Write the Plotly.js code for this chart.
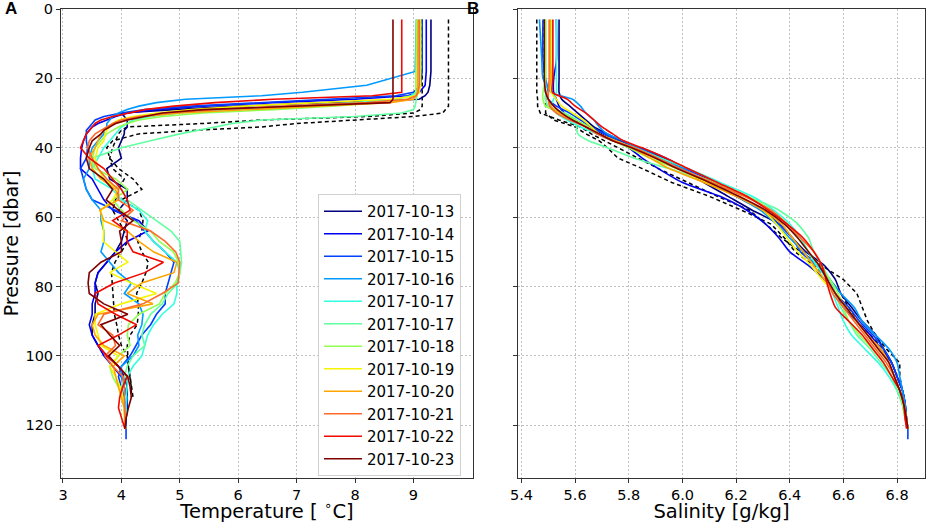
<!DOCTYPE html>
<html>
<head>
<meta charset="utf-8">
<script src="https://cdn.plot.ly/plotly-3.0.1.min.js"></script>
<style>html,body{margin:0;padding:0;background:#fff}</style>
</head>
<body>
<div id="chart" style="width:931px;height:523px"></div>
<script>
// profile dates, jet-like colours
const DATES = ['2017-10-13','2017-10-14','2017-10-15','2017-10-16','2017-10-17','2017-10-17',
               '2017-10-18','2017-10-19','2017-10-20','2017-10-21','2017-10-22','2017-10-23'];
const COLORS = ['#00007f','#0000f1','#0040ff','#0099ff','#30ffe0','#60ffa0',
                '#90ff50','#f5f500','#ffa500','#ff6a2a','#f10800','#7f0000'];

// ── Temperature panel ────────────────────────────────────────────────────────
const P_TEMP = [3,18,22,24,25,26,27,28,29,30,31,32,33,34,35,36,38,40,
                43,46,49,52,55,58,61,64,67,70,73,76,79,82,85,88,91,94,97,100,103,106,109,112,115,118,121,124];

const T_1013 = [9.3,9.3,9.28,9.25,9.2,9.1,7.5,6.0,4.9,4.0,4.05,4.1,4.1,4.1,4.05,4.05,4.0,3.95,
                4.0,3.75,3.8,4.1,4.1,3.95,4.1,4.05,4.0,3.9,3.75,3.6,3.55,3.6,3.55,3.55,3.5,3.5,3.6,3.75,3.95,4.05,4.1,4.1,4.1,4.08,4.08];
const T_1014 = [9.22,9.22,9.2,9.1,8.9,8.0,6.6,5.4,4.6,4.1,3.9,3.75,3.6,3.5,3.45,3.4,3.35,3.32,
                3.3,3.3,3.5,3.6,3.7,3.85,4.3,4.45,4.1,3.9,3.75,3.6,3.55,3.55,3.5,3.5,3.45,3.5,3.6,3.7,3.85,4.0,4.05,4.1,4.1,4.08,4.08];
const T_1015 = [9.15,9.15,9.12,9.0,8.7,7.6,6.4,5.2,4.4,4.0,3.7,3.55,3.5,3.45,3.4,3.4,3.4,3.42,
                3.4,3.3,3.35,3.4,3.5,3.9,4.25,4.4,4.55,4.75,4.9,4.85,4.8,4.75,4.75,4.6,4.5,4.35,4.25,4.15,4.0,3.95,4.0,4.05,4.08,4.08,4.08,4.08];
const T_1016 = [9.05,9.03,8.2,7.1,6.4,5.1,4.6,4.3,4.1,3.95,3.85,3.8,3.75,3.75,3.7,3.7,3.6,3.5,
                3.45,3.45,3.35,3.4,3.5,3.65,3.65,3.7,3.7,3.65,3.8,3.95,4.17,4.05,4.3,4.37,4.35,4.28,4.3,4.2,4.0,4.0,4.05,4.1,4.08,4.08];
const T_1017A = [9.12,9.12,9.1,9.05,8.95,8.7,8.0,7.0,6.0,5.0,4.5,4.2,4.1,4.0,3.95,3.9,3.8,3.7,
                 3.6,3.5,3.55,3.85,4.0,4.3,4.45,4.4,4.55,4.75,4.95,5.0,4.95,4.95,4.9,4.7,4.55,4.45,4.4,4.35,4.2,4.1,4.1,4.08,4.08,4.08];
const T_1017B = [9.08,9.08,9.08,9.07,9.06,9.05,9.05,9.03,9.0,8.8,8.0,6.4,5.9,5.6,5.3,5.0,4.5,4.0,
                 3.5,3.5,3.65,4.0,4.1,4.35,4.6,4.85,5.0,5.02,5.03,5.0,4.97,4.8,4.7,4.5,4.4,4.35,4.4,4.2,4.1,4.05,4.0,4.02,4.05,4.06,4.07];
const T_1018 = [9.05,9.05,9.05,9.04,9.0,8.9,8.4,7.6,6.6,5.4,4.7,4.3,4.1,3.95,3.85,3.75,3.65,3.55,
                3.5,3.55,3.9,4.11,3.85,4.0,4.2,4.5,4.65,4.89,4.98,5.0,4.92,4.75,4.65,4.3,4.12,4.1,4.15,3.95,3.8,3.85,3.95,4.0,4.05,4.05,4.07];
const T_1019 = [9.12,9.12,9.12,9.1,9.05,8.6,7.2,6.1,5.2,4.6,4.2,3.95,3.85,3.8,3.75,3.72,3.7,3.6,
                3.55,3.6,3.7,3.95,3.85,3.65,3.68,3.7,3.69,3.9,4.11,3.8,4.17,4.6,4.0,3.55,3.55,3.6,3.65,3.95,3.8,3.9,3.98,4.03,4.05,4.06,4.07];
const T_1020 = [9.08,9.08,9.08,9.07,9.05,9.0,8.6,7.4,6.1,5.0,4.4,4.1,3.9,3.75,3.7,3.65,3.6,3.55,
                3.45,3.5,3.65,3.9,3.95,3.63,3.7,4.1,4.3,4.55,4.95,4.9,4.35,4.1,4.54,3.6,3.5,3.55,3.7,4.05,3.86,3.9,3.95,4.0,4.05,4.06,4.07];
const T_1021 = [9.1,9.1,9.1,9.08,9.05,8.9,8.2,6.8,5.6,4.8,4.3,4.0,3.85,3.75,3.65,3.55,3.45,3.42,
                3.5,3.6,3.75,3.95,3.95,4.2,4.0,4.5,4.75,4.93,5.0,4.98,4.97,4.7,4.37,3.7,3.6,3.85,3.9,3.72,3.85,4.03,4.05,4.05,4.06,4.06,4.07];
const T_1022 = [8.8,8.8,8.8,8.8,8.3,6.6,5.6,4.9,4.4,4.1,3.85,3.65,3.55,3.5,3.45,3.4,3.35,3.3,
                3.45,3.7,3.85,4.0,4.1,4.15,3.85,4.1,4.1,4.2,4.72,4.4,3.88,3.55,3.6,3.9,4.26,3.95,3.6,3.75,3.95,4.1,4.02,3.97,3.95,4.0,4.06];
const T_1023 = [8.65,8.65,8.65,8.65,8.65,8.65,8.6,7.0,5.4,4.7,4.4,4.1,3.9,3.8,3.7,3.65,3.5,3.45,
                3.4,3.45,3.7,3.85,3.74,3.95,4.2,3.97,4.0,4.0,3.65,3.45,3.43,3.45,3.7,4.11,3.65,3.8,3.97,3.78,3.95,4.11,4.15,4.17,4.12,4.08,4.06];
// black dashed reference profiles, both stop near 112 dbar
const T_DASH_A = [9.6,9.6,9.6,9.6,9.6,9.6,9.6,9.6,9.55,9.5,9.0,8.0,7.0,6.4,5.2,4.3,3.85,3.75,
                  3.8,3.95,4.2,4.35,4.0,4.3,4.37,4.35,4.28,4.35,4.46,4.42,4.35,4.26,4.29,4.29,4.27,4.15,4.1,4.11,4.12,4.15,4.18,4.2];
const T_DASH_B = [9.15,9.15,9.15,9.15,9.15,9.15,9.15,9.15,9.12,9.0,8.2,6.4,5.4,4.1,4.0,3.95,3.9,3.85,
                  3.8,3.85,4.05,3.95,3.9,3.85,3.95,4.05,4.11,4.0,3.89,3.83,3.84,3.86,3.86,3.88,3.92,3.95,4.0,4.1,4.12,4.15,4.17,4.17];

// ── Salinity panel ───────────────────────────────────────────────────────────
const P_SAL = [3,15,20,24,26,28,30,32,34,36,38,40,43,46,50,54,58,62,66,70,74,78,82,86,90,94,98,102,106,110,114,118,121,124];

const S_1013 = [5.54,5.54,5.54,5.54,5.55,5.58,5.61,5.64,5.67,5.72,5.77,5.83,5.93,6.0,6.08,6.17,6.26,6.36,6.41,6.46,6.53,6.57,6.59,6.63,6.67,6.72,6.75,6.78,6.8,6.82,6.83,6.835,6.84];
const S_1014 = [5.53,5.53,5.52,5.52,5.53,5.54,5.56,5.6,5.65,5.7,5.75,5.8,5.85,5.91,6.0,6.14,6.24,6.31,6.36,6.4,6.47,6.53,6.57,6.6,6.65,6.7,6.74,6.78,6.8,6.82,6.83,6.835,6.84];
const S_1015 = [5.48,5.48,5.49,5.5,5.5,5.53,5.58,5.62,5.66,5.71,5.76,5.84,5.94,6.01,6.12,6.2,6.3,6.36,6.41,6.44,6.5,6.55,6.57,6.62,6.66,6.71,6.75,6.78,6.8,6.82,6.83,6.835,6.84,6.84];
const S_1016 = [5.467,5.476,5.48,5.51,5.59,5.62,5.64,5.67,5.69,5.72,5.78,5.83,5.92,6.0,6.1,6.2,6.29,6.35,6.4,6.45,6.5,6.55,6.59,6.64,6.67,6.72,6.77,6.8,6.81,6.82,6.83,6.835];
const S_1017A = [5.53,5.53,5.53,5.53,5.52,5.51,5.53,5.57,5.62,5.68,5.74,5.82,5.92,6.02,6.14,6.26,6.34,6.4,6.44,6.47,6.5,6.54,6.56,6.58,6.6,6.63,6.68,6.73,6.77,6.8,6.82,6.83,6.84];
const S_1017B = [5.49,5.49,5.49,5.49,5.49,5.5,5.56,5.605,5.605,5.61,5.65,5.72,5.82,5.95,6.1,6.24,6.36,6.43,6.47,6.49,6.52,6.55,6.57,6.59,6.62,6.65,6.7,6.74,6.78,6.8,6.82,6.83,6.84];
const S_1018 = [5.49,5.49,5.49,5.48,5.48,5.49,5.55,5.6,5.65,5.69,5.74,5.8,5.88,5.98,6.12,6.24,6.33,6.39,6.43,6.47,6.51,6.55,6.58,6.6,6.62,6.66,6.71,6.75,6.78,6.81,6.82,6.83,6.84];
const S_1019 = [5.51,5.51,5.51,5.51,5.53,5.55,5.59,5.63,5.66,5.69,5.75,5.82,5.9,5.98,6.09,6.21,6.3,6.35,6.39,6.43,6.48,6.52,6.57,6.61,6.65,6.69,6.73,6.77,6.79,6.81,6.825,6.835,6.84];
const S_1020 = [5.507,5.507,5.51,5.5,5.5,5.51,5.54,5.59,5.64,5.69,5.75,5.81,5.88,5.95,6.08,6.2,6.3,6.37,6.41,6.45,6.49,6.53,6.57,6.61,6.65,6.69,6.74,6.77,6.79,6.81,6.825,6.835,6.84];
const S_1021 = [5.503,5.503,5.503,5.5,5.5,5.505,5.53,5.58,5.64,5.68,5.74,5.82,5.91,5.99,6.11,6.23,6.33,6.39,6.44,6.49,6.52,6.54,6.56,6.6,6.64,6.68,6.72,6.76,6.79,6.81,6.825,6.83,6.84];
const S_1022 = [5.517,5.517,5.517,5.515,5.57,5.6,5.64,5.67,5.7,5.74,5.78,5.85,5.94,6.02,6.13,6.24,6.32,6.39,6.45,6.49,6.52,6.535,6.55,6.57,6.62,6.67,6.71,6.75,6.78,6.81,6.825,6.83,6.835];
const S_1023 = [5.485,5.485,5.485,5.49,5.5,5.52,5.55,5.59,5.64,5.69,5.74,5.81,5.9,5.98,6.1,6.21,6.31,6.38,6.43,6.47,6.51,6.54,6.57,6.61,6.65,6.69,6.73,6.77,6.79,6.81,6.825,6.835,6.84];
const S_DASH_A = [5.457,5.457,5.457,5.457,5.46,5.46,5.47,5.54,5.62,5.66,5.71,5.76,5.83,5.91,6.02,6.13,6.25,6.31,6.37,6.44,6.52,6.6,6.65,6.67,6.69,6.72,6.76,6.81,6.81,6.82,6.83];
const S_DASH_B = [5.485,5.485,5.485,5.49,5.49,5.49,5.49,5.52,5.6,5.64,5.69,5.72,5.76,5.85,5.96,6.1,6.22,6.33,6.38,6.42,6.49,6.55,6.59,6.62,6.65,6.7,6.75,6.77,6.79,6.81,6.82];

const TEMP_SERIES = [T_1013,T_1014,T_1015,T_1016,T_1017A,T_1017B,T_1018,T_1019,T_1020,T_1021,T_1022,T_1023];
const SAL_SERIES  = [S_1013,S_1014,S_1015,S_1016,S_1017A,S_1017B,S_1018,S_1019,S_1020,S_1021,S_1022,S_1023];

// tick labels
const TEMP_TICKS = [3,4,5,6,7,8,9];
const SAL_TICKS = [5.4,5.6,5.8,6.0,6.2,6.4,6.6,6.8];
const SAL_LABELS = ['5.4','5.6','5.8','6.0','6.2','6.4','6.6','6.8'];
const P_TICKS = [0,20,40,60,80,100,120];

const W = 931, H = 523;
const FONT = 'DejaVu Sans, sans-serif';
const LINE_W = 1.6;

function dashed(x, y, xa, ya) {
  return { x, y, xaxis: xa, yaxis: ya, type: 'scatter', mode: 'lines', showlegend: false,
           line: { color: '#000', width: 1.5, dash: '4px,3px' }, hoverinfo: 'skip' };
}

const traces = [
  dashed(T_DASH_A, P_TEMP, 'x', 'y'),
  dashed(T_DASH_B, P_TEMP, 'x', 'y'),
  dashed(S_DASH_A, P_SAL, 'x2', 'y2'),
  dashed(S_DASH_B, P_SAL, 'x2', 'y2'),
];
TEMP_SERIES.forEach((vals, i) => traces.push({
  x: vals, y: P_TEMP, xaxis: 'x', yaxis: 'y', type: 'scatter', mode: 'lines',
  name: DATES[i], legendgroup: 'g' + i, line: { color: COLORS[i], width: LINE_W },
}));
SAL_SERIES.forEach((vals, i) => traces.push({
  x: vals, y: P_SAL, xaxis: 'x2', yaxis: 'y2', type: 'scatter', mode: 'lines',
  showlegend: false, legendgroup: 'g' + i, line: { color: COLORS[i], width: LINE_W, shape: 'spline', smoothing: 0.6 },
}));

// shared axis styling, matplotlib look
const axisBase = {
  showline: true, mirror: true, linecolor: '#333', linewidth: 1,
  ticks: 'outside', ticklen: 4, tickwidth: 1, tickcolor: '#333',
  showgrid: true, gridcolor: '#c0c0c0', gridwidth: 1, griddash: '2px,2px',
  zeroline: false, tickfont: { family: FONT, size: 14.5, color: '#000' },
};

const layout = {
  width: W, height: H, autosize: false,
  margin: { l: 0, r: 0, t: 0, b: 0 },
  paper_bgcolor: '#fff', plot_bgcolor: '#fff',
  font: { family: FONT, color: '#000' },
  hovermode: false,
  xaxis: Object.assign({}, axisBase, {
    domain: [61 / W, 473 / W], range: [2.966, 10.02], tickvals: TEMP_TICKS, anchor: 'y',
    title: { text: 'Temperature [ <sup>∘</sup>C]', font: { family: FONT, size: 19.5 }, standoff: 7 },
  }),
  yaxis: Object.assign({}, axisBase, {
    domain: [1 - 478 / H, 1 - 9 / H], range: [135.2, 0], tickvals: P_TICKS, anchor: 'x',
    title: { text: 'Pressure [dbar]', font: { family: FONT, size: 19 }, standoff: 6 },
  }),
  xaxis2: Object.assign({}, axisBase, {
    domain: [518 / W, 925 / W], range: [5.387, 6.904], tickvals: SAL_TICKS, ticktext: SAL_LABELS, anchor: 'y2',
    title: { text: 'Salinity [g/kg]', font: { family: FONT, size: 19.5 }, standoff: 7 },
  }),
  yaxis2: Object.assign({}, axisBase, {
    domain: [1 - 478 / H, 1 - 9 / H], range: [135.2, 0], tickvals: P_TICKS, showticklabels: false, anchor: 'x2',
  }),
  legend: {
    x: 461 / W, xanchor: 'right', y: 1 - 194 / H, yanchor: 'top',
    bgcolor: '#fff', bordercolor: '#d0d0d0', borderwidth: 1,
    font: { family: FONT, size: 15, color: '#000' },
    traceorder: 'grouped', tracegroupgap: 0, itemwidth: 38,
  },
  annotations: [
    { text: '<b>A</b>', xref: 'paper', yref: 'paper', x: 3 / W, y: 1 - 9 / H, xanchor: 'left', yanchor: 'middle',
      showarrow: false, font: { family: 'Liberation Sans, sans-serif', size: 17 } },
    { text: '<b>B</b>', xref: 'paper', yref: 'paper', x: 465 / W, y: 1 - 9 / H, xanchor: 'left', yanchor: 'middle',
      showarrow: false, font: { family: 'Liberation Sans, sans-serif', size: 17 } },
  ],
};

Plotly.newPlot('chart', traces, layout, { displayModeBar: false, staticPlot: true });
</script>
</body>
</html>
